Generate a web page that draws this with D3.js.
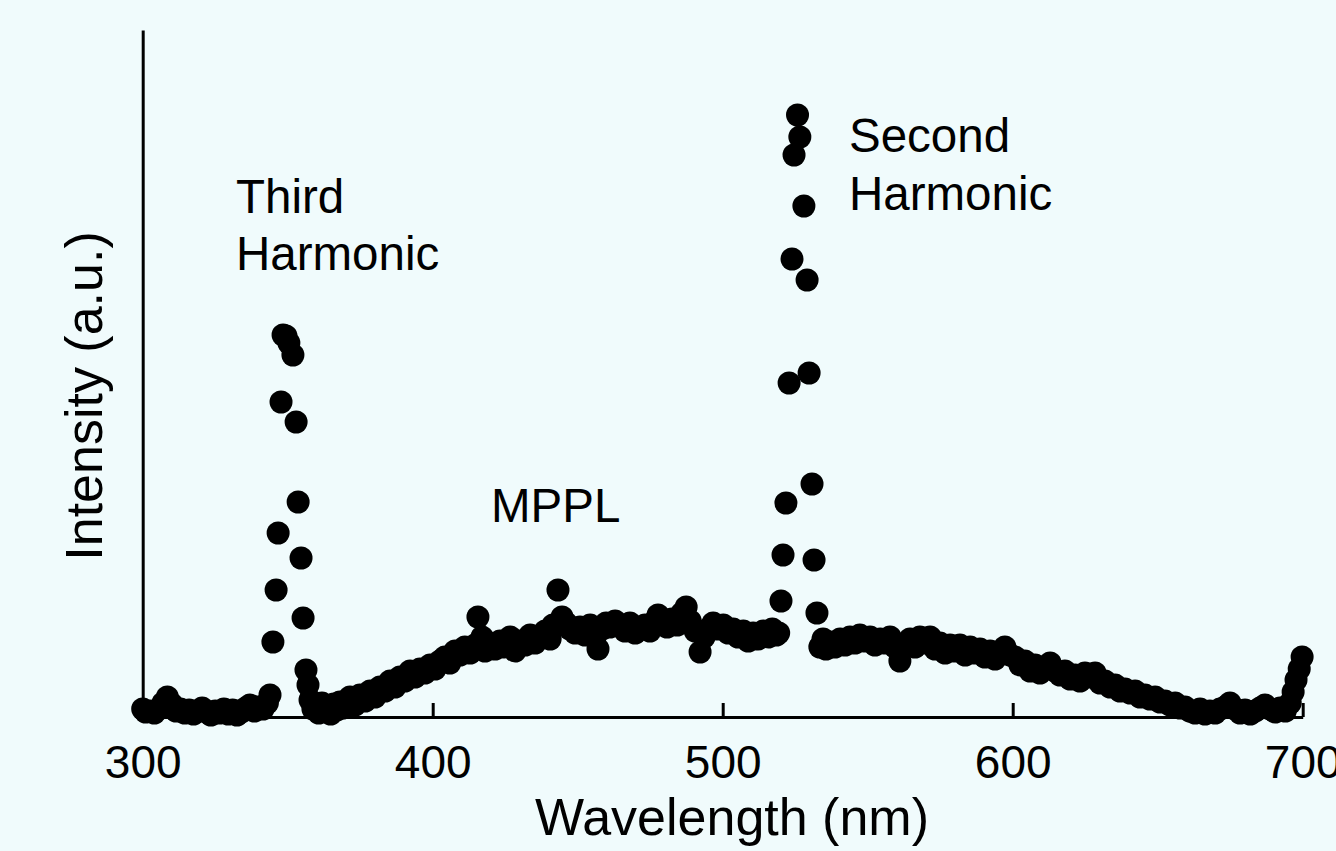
<!DOCTYPE html>
<html>
<head>
<meta charset="utf-8">
<script src="https://cdn.jsdelivr.net/npm/d3@7"></script>
<style>
  html, body { margin: 0; padding: 0; background: #f0fbfc; }
  svg { display: block; }
  text { font-family: "Liberation Sans", Arial, sans-serif; fill: #000; }
</style>
</head>
<body>
<div id="chart"></div>
<script>
// spectrum: wavelength (nm) and intensity (a.u.)
var wavelength = [
  300, 301, 302.5, 304, 305.5, 307, 308.5, 310, 311.5, 313, 314.5, 316, 317.5, 319, 320.5,
  322, 323.5, 325, 326.5, 328, 329.5, 331, 332.5, 334, 335.5, 337, 338.5, 340, 341.5, 343,
  // third harmonic
  343.9, 344.9, 346.0, 346.7, 347.7, 348.4, 349.4, 350.4, 351.8, 352.9, 353.6, 354.6, 355.3, 356.3, 357.0, 357.7,
  358.7, 359.7, 360.7, 361.8, 362.8, 363.8, 364.8, 365.9, 366.9, 368, 369,
  // MPPL
  369.7, 371.5, 373.2, 374.9, 376.7, 378.4, 380.1, 381.8, 383.6, 385.3, 387, 388.7, 390.4, 392.2, 393.9,
  395.6, 397.3, 399.1, 400.8, 402.5, 404.2, 405.9, 407.7, 409.4, 411.1, 412.9, 414.6, 415.6, 417, 418,
  419.8, 421.5, 423.2, 424.9, 426.7, 428.4, 430.1, 431.9, 433.6, 435.3, 437, 438.8, 440.5, 441.5, 443.2,
  444.6, 446, 447.3, 449.1, 450.8, 452.5, 454.3, 456, 457, 458.4, 459.8, 461.1, 462.9, 464.6, 466.3,
  468, 469.8, 471.5, 473.2, 474.9, 476.7, 477.7, 479.1, 480.8, 482.5, 484.3, 486, 487.4, 488.8, 490.5,
  492.2, 493.6, 495, 496.7, 498.4, 500.2, 501.9, 503.6, 505.3, 507.1, 508.8, 510.5, 512.2, 514, 515.7,
  517.1, 518.5, 519.3,
  // second harmonic
  520.1, 520.8, 521.8, 522.9, 523.9, 524.6, 525.8, 526.6, 528.0, 529.1, 529.8, 530.8, 531.5, 532.5, 533.5,
  534.6, 535.6, 537, 538.7, 540.5, 542.2, 543.9, 545.6, 547.3, 549.1, 550.8, 552.5, 554.3, 556, 557.7,
  559.4, 561.1, 562.9, 564.6, 566.3, 568, 569.8, 571.5, 573.2, 574.9, 576.7, 578.4, 580.1, 581.8, 583.6,
  585.3, 587, 588.7, 590.4, 592.2, 593.9, 595.6, 597.3, 599.1, 600.8, 602.5, 604.2, 606, 607.7, 609.4,
  611.1, 612.9, 614.6, 616.3, 618, 619.8, 621.5, 623.2, 624.9, 626.7, 628.4, 630.1, 631.8, 633.6, 635.3,
  637, 638.7, 640.5, 642.2, 643.9, 645.6, 647.3, 649.1, 650.8, 652.5, 654.3, 656, 657.7, 659.4, 661.1,
  662.9, 664.6, 666.3, 668, 669.8, 671.5, 673.2, 674.9, 676.7, 678.4, 680.1, 681.9, 683.6, 685.3, 687,
  688.8, 690.5, 692.2, 694, 695.7, 696.7, 697.7, 698.8, 699.8
];
var intensity = [
  8, 5, 6, 4, 8, 14, 20, 13, 6, 8, 4, 7, 3, 6, 9,
  5, 2, 6, 4, 8, 3, 7, 2, 5, 9, 12, 6, 10, 8, 14,
  22, 75, 127, 184, 315, 382, 381, 374, 362, 295, 215, 159, 99, 47, 32, 17,
  8, 12, 4, 14, 6, 10, 3, 13, 7, 15, 9,
  14, 20, 12, 22, 16, 26, 20, 30, 26, 36, 30, 40, 36, 46, 40,
  48, 44, 52, 48, 56, 60, 54, 66, 62, 70, 64, 72, 100, 80, 66,
  74, 68, 76, 70, 80, 66, 76, 72, 82, 74, 80, 86, 78, 92, 127,
  100, 94, 88, 84, 90, 82, 92, 80, 68, 88, 94, 90, 96, 92, 86,
  94, 84, 88, 92, 86, 96, 102, 94, 90, 98, 92, 104, 110, 96, 86,
  65, 80, 88, 94, 88, 92, 84, 88, 80, 86, 76, 84, 78, 86, 80,
  88, 82, 84,
  116, 162, 214, 334, 458, 562, 602, 580, 511, 437, 344, 233, 157, 104, 70,
  78, 68, 75, 70, 78, 72, 80, 74, 82, 76, 80, 72, 78, 74, 80,
  70, 56, 72, 78, 70, 80, 74, 80, 68, 74, 64, 72, 66, 72, 62,
  70, 64, 68, 60, 66, 58, 64, 70, 62, 60, 52, 56, 46, 52, 44,
  50, 54, 46, 42, 46, 38, 42, 36, 44, 40, 44, 34, 36, 30, 32,
  26, 28, 24, 26, 20, 22, 18, 20, 15, 16, 12, 14, 9, 10, 6,
  4, 8, 3, 6, 4, 8, 10, 14, 8, 4, 7, 3, 6, 9, 12,
  8, 5, 9, 6, 14, 25, 37, 48, 60
];
var xTicks = [300, 400, 500, 600, 700];

var W = 1336, H = 851;

var svg = d3.select("#chart")
    .append("svg")
    .attr("width", W)
    .attr("height", H);

var x = d3.scaleLinear()
    .domain([300, 700])
    .range([142.7, 1302.7]);

var y = d3.scaleLinear()
    .domain([0, 687])
    .range([717, 30]);

// x axis, ticks pointing inward
var xAxis = svg.append("g")
    .attr("transform", "translate(0," + y(0) + ")")
    .call(d3.axisBottom(x)
        .tickValues(xTicks)
        .tickFormat(d3.format("d"))
        .tickSizeInner(-14)
        .tickSizeOuter(0)
        .tickPadding(28));
xAxis.selectAll("path, line").attr("stroke", "#000").attr("stroke-width", 3);
xAxis.selectAll("text")
    .style("font-family", "'Liberation Sans', Arial, sans-serif")
    .attr("font-size", 46)
    .attr("fill", "#000");

// y axis: plain line
var yAxis = svg.append("g")
    .attr("transform", "translate(" + x(300) + ",0)")
    .call(d3.axisLeft(y).tickValues([]).tickSizeOuter(0));
yAxis.select("path").attr("stroke", "#000").attr("stroke-width", 3);

// points
var data = wavelength.map(function(w, i) { return { w: w, v: intensity[i] }; });
svg.append("g")
    .selectAll("circle")
    .data(data)
    .enter().append("circle")
    .attr("cx", function(d) { return x(d.w); })
    .attr("cy", function(d) { return y(d.v); })
    .attr("r", 11.5)
    .attr("fill", "#000");

// axis titles
svg.append("text")
    .attr("x", 732)
    .attr("y", 835)
    .attr("text-anchor", "middle")
    .attr("font-size", 52)
    .text("Wavelength (nm)");

svg.append("text")
    .attr("transform", "translate(102,396) rotate(-90)")
    .attr("text-anchor", "middle")
    .attr("font-size", 52)
    .text("Intensity (a.u.)");

// peak labels
var labels = [
  { t: "Third", x: 236, y: 213 },
  { t: "Harmonic", x: 236, y: 270 },
  { t: "MPPL", x: 491, y: 522 },
  { t: "Second", x: 849, y: 152 },
  { t: "Harmonic", x: 849, y: 210 }
];
svg.append("g")
    .selectAll("text")
    .data(labels)
    .enter().append("text")
    .attr("x", function(d) { return d.x; })
    .attr("y", function(d) { return d.y; })
    .attr("font-size", 47.5)
    .text(function(d) { return d.t; });
</script>
</body>
</html>
